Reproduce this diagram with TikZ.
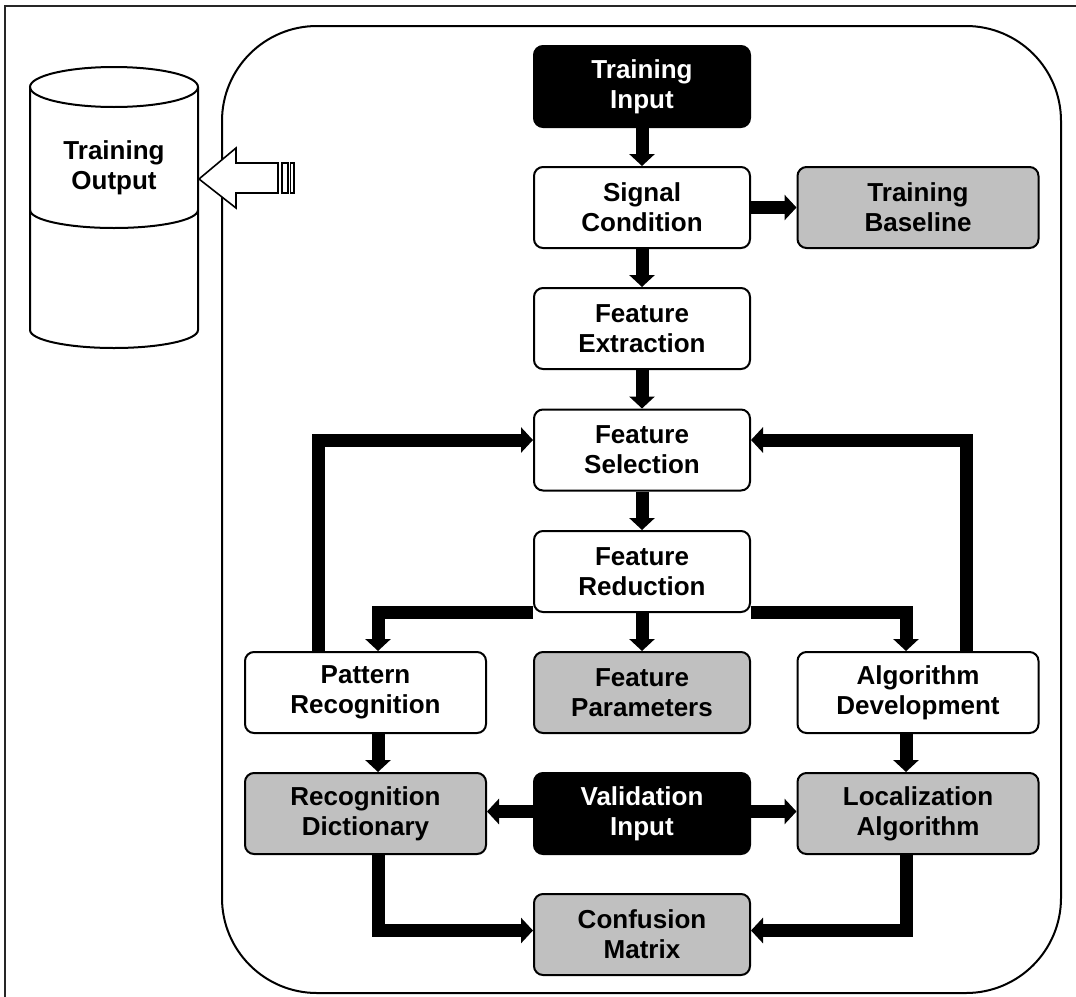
\documentclass[tikz,border=0pt]{standalone}
\usepackage{fontspec}
\setmainfont{Liberation Sans}
\usetikzlibrary{arrows.meta}
\definecolor{boxgray}{RGB}{192,192,192}
\begin{document}
\begin{tikzpicture}[x=1pt,y=-1pt,
  box/.style={draw=black, line width=2pt, rounded corners=9pt, minimum height=81pt, inner sep=0pt,
    align=center, font=\bfseries\fontsize{26}{30}\selectfont, text=black, fill=white},
  sidebox/.style={box, minimum width=241pt},
  midbox/.style={box, minimum width=216pt},
  graybox/.style={fill=boxgray},
  blackbox/.style={fill=black, text=white},
  arr/.style={line width=13pt, line join=miter, -{Triangle[width=25pt,length=12pt]}},
  thinline/.style={line width=2pt, line join=miter}
]
\useasboundingbox (0,0) rectangle (1076,996);
% outer frame
\draw[line width=2pt, draw=black!85] (5,6) rectangle (1110,1020);
% container
\draw[thinline, rounded corners=95pt] (222,26) rectangle (1061,993);

% cylinder
\draw[thinline, fill=white] (30,87) -- (30,330) arc[start angle=180, end angle=0, x radius=84, y radius=18] -- (198,87);
\draw[thinline] (114,87) ellipse [x radius=84, y radius=20];
\draw[thinline] (30,210) arc[start angle=180, end angle=0, x radius=84, y radius=18];
\node[align=center, font=\bfseries\fontsize{26}{30}\selectfont] (to) at (114,168) {Training\\Output};

% outline arrow
\draw[line width=1.6pt, fill=white] (199,179) -- (236,148) -- (236,163) -- (278,163) -- (278,193) -- (236,193) -- (236,208) -- cycle;
\draw[line width=1.6pt] (282,163) rectangle (288,193);
\draw[line width=1.6pt] (290.5,163) rectangle (294,193);

% nodes
\node[midbox, blackbox] (ti) at (642,86.5) {Training\\Input};
\node[midbox] (sc) at (642,207.5) {Signal\\Condition};
\node[sidebox, graybox] (tb) at (918,207.5) {Training\\Baseline};
\node[midbox] (fe) at (642,328.5) {Feature\\Extraction};
\node[midbox] (fs) at (642,450) {Feature\\Selection};
\node[midbox] (fr) at (642,571.5) {Feature\\Reduction};
\node[sidebox] (pr) at (365.5,692.5) {Pattern\\Recognition};
\node[midbox, graybox] (fp) at (642,692.5) {Feature\\Parameters};
\node[sidebox] (ad) at (918,692.5) {Algorithm\\Development};
\node[sidebox, graybox] (rd) at (365.5,813.5) {Recognition\\Dictionary};
\node[midbox, blackbox] (vi) at (642,813.5) {Validation\\Input};
\node[sidebox, graybox] (la) at (918,813.5) {Localization\\Algorithm};
\node[midbox, graybox] (cm) at (642,934.5) {Confusion\\Matrix};

% connectors
\draw[arr] (ti) -- (sc);
\draw[arr] (sc) -- (tb);
\draw[arr] (sc) -- (fe);
\draw[arr] (fe) -- (fs);
\draw[arr] (fs) -- (fr);
\draw[arr] (fr) -- (fp);
\draw[arr] ([yshift=1pt]fr.south west) -| ([xshift=12.5pt]pr.north);
\draw[arr] ([yshift=1pt]fr.south east) -| ([xshift=-12pt]ad.north);
\draw[arr] ([xshift=-47.5pt]pr.north) |- ([yshift=10pt]fs.west);
\draw[arr] ([xshift=48pt]ad.north) |- ([yshift=10pt]fs.east);
\draw[arr] ([xshift=12.5pt]pr.south) -- ([xshift=12.5pt]rd.north);
\draw[arr] ([xshift=-12pt]ad.south) -- ([xshift=-12pt]la.north);
\draw[arr] ([yshift=2pt]vi.west) -- ([yshift=2pt]rd.east);
\draw[arr] ([yshift=2pt]vi.east) -- ([yshift=2pt]la.west);
\draw[arr] ([xshift=12.5pt]rd.south) |- ([yshift=4pt]cm.west);
\draw[arr] ([xshift=-12pt]la.south) |- ([yshift=4pt]cm.east);
\end{tikzpicture}
\end{document}
